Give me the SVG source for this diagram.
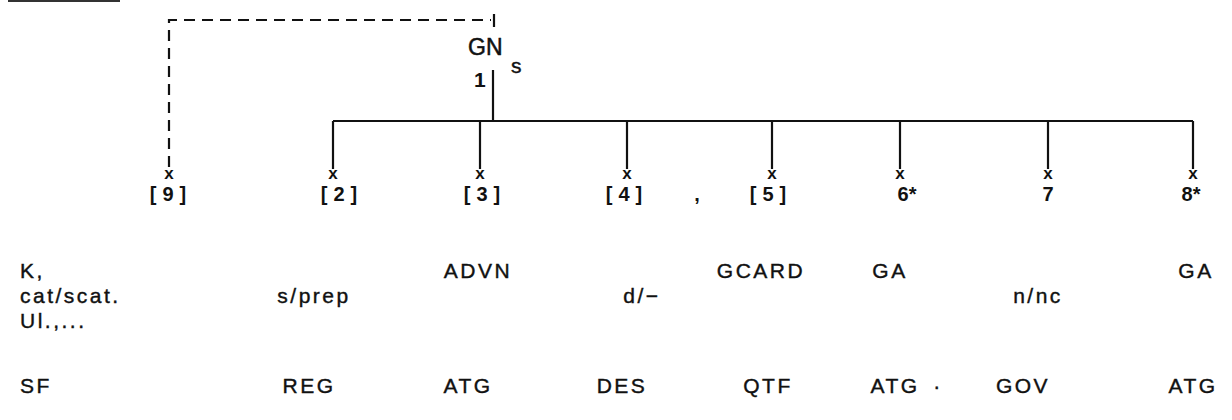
<svg xmlns="http://www.w3.org/2000/svg" width="1232" height="420" viewBox="0 0 1232 420">
<style>
  text { font-family: "Liberation Sans", Arial, sans-serif; fill: #111; }
  .row { font-size: 21px; letter-spacing: 2.5px; stroke: #111; stroke-width: 0.4; }
  .lbl { font-size: 20px; font-weight: bold; letter-spacing: 6px; text-anchor: middle; }
  .num { font-size: 20px; font-weight: bold; text-anchor: middle; }
  .x { font-size: 17px; font-weight: bold; text-anchor: middle; }
  .ln { stroke: #111; stroke-width: 2.2; fill: none; }
  .dash { stroke: #111; stroke-width: 2.2; fill: none; stroke-dasharray: 11 7; }
</style>
<rect x="8" y="0" width="112" height="2" fill="#333"/>

<g id="connectors">
  <path class="dash" d="M169,167 V20 H491"/>
  <line class="ln" x1="494" y1="14" x2="494" y2="27" stroke-width="2.5"/>
  <line class="ln" x1="493" y1="70" x2="493" y2="121"/>
  <line class="ln" x1="333" y1="121" x2="1193" y2="121"/>
  <line class="ln" x1="333" y1="121" x2="333" y2="169"/>
  <line class="ln" x1="480" y1="121" x2="480" y2="169"/>
  <line class="ln" x1="627" y1="121" x2="627" y2="169"/>
  <line class="ln" x1="772" y1="121" x2="772" y2="169"/>
  <line class="ln" x1="900" y1="121" x2="900" y2="169"/>
  <line class="ln" x1="1048" y1="121" x2="1048" y2="169"/>
  <line class="ln" x1="1193" y1="121" x2="1193" y2="169"/>
</g>

<g id="root">
  <text x="468" y="55" font-size="23" stroke="#111" stroke-width="0.5">GN</text>
  <text x="511" y="73" font-size="21" stroke="#111" stroke-width="0.4">s</text>
  <text x="474" y="87" font-size="21" font-weight="bold">1</text>
</g>

<g id="n9"><text class="x" x="169" y="179">x</text><text class="lbl" x="171" y="201">[9]</text></g>
<g id="n2"><text class="x" x="333" y="179">x</text><text class="lbl" x="342" y="201">[2]</text></g>
<g id="n3"><text class="x" x="480" y="179">x</text><text class="lbl" x="485" y="201">[3]</text></g>
<g id="n4"><text class="x" x="627" y="179">x</text><text class="lbl" x="627" y="201">[4]</text></g>
<text class="num" x="697" y="201">,</text>
<g id="n5"><text class="x" x="772" y="179">x</text><text class="lbl" x="771" y="201">[5]</text></g>
<g id="n6"><text class="x" x="900" y="179">x</text><text class="num" x="907" y="201">6*</text></g>
<g id="n7"><text class="x" x="1048" y="179">x</text><text class="num" x="1048" y="201">7</text></g>
<g id="n8"><text class="x" x="1193" y="179">x</text><text class="num" x="1191" y="201">8*</text></g>

<g id="table">
  <text class="row" x="20" y="278">K,</text>
  <text class="row" x="20" y="303">cat/scat.</text>
  <text class="row" x="20" y="328">Ul.,...</text>
  <text class="row" x="20" y="393">SF</text>

  <text class="row" x="478" y="278" text-anchor="middle">ADVN</text>
  <text class="row" x="761" y="278" text-anchor="middle">GCARD</text>
  <text class="row" x="890" y="278" text-anchor="middle">GA</text>
  <text class="row" x="1196" y="278" text-anchor="middle">GA</text>

  <text class="row" x="314" y="303" text-anchor="middle">s/prep</text>
  <text class="row" x="642" y="303" text-anchor="middle">d/−</text>
  <text class="row" x="1038" y="303" text-anchor="middle">n/nc</text>

  <text class="row" x="309" y="393" text-anchor="middle">REG</text>
  <text class="row" x="468" y="393" text-anchor="middle">ATG</text>
  <text class="row" x="622" y="393" text-anchor="middle">DES</text>
  <text class="row" x="768" y="393" text-anchor="middle">QTF</text>
  <text class="row" x="895" y="393" text-anchor="middle">ATG</text>
  <text class="row" x="938" y="393" text-anchor="middle">·</text>
  <text class="row" x="1023" y="393" text-anchor="middle">GOV</text>
  <text class="row" x="1193" y="393" text-anchor="middle">ATG</text>
</g>
</svg>
